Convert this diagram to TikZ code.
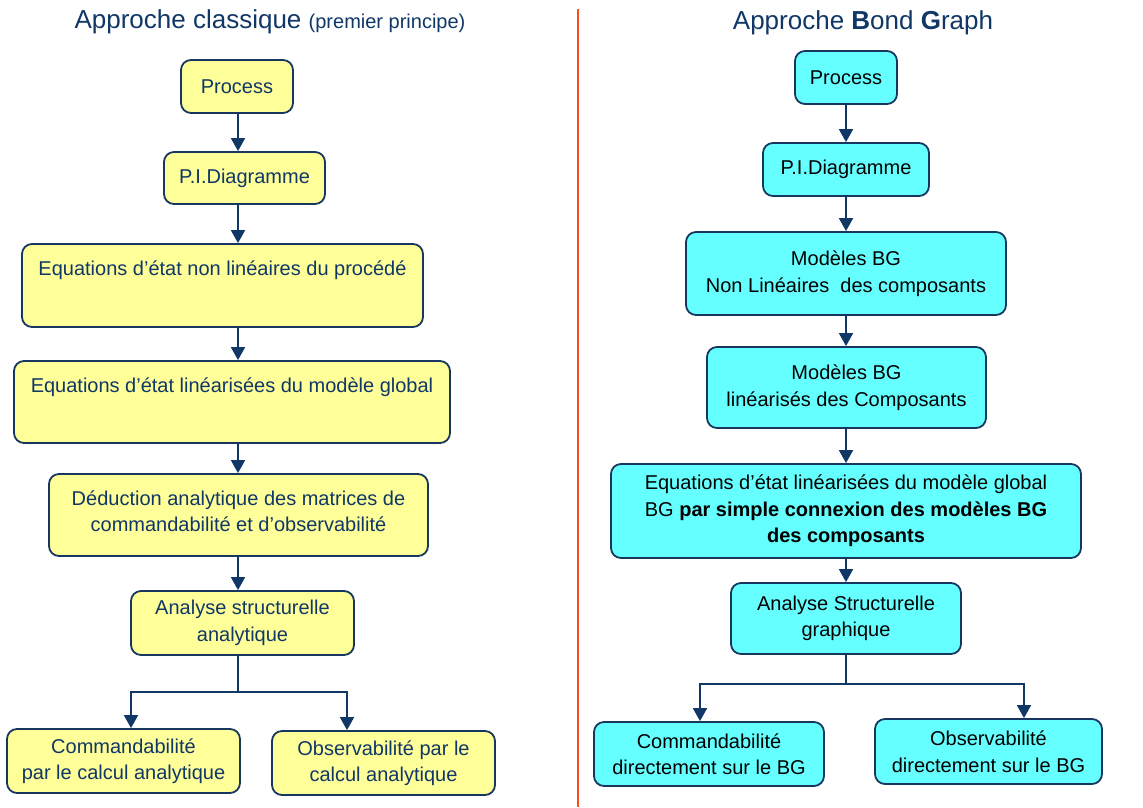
\documentclass[tikz,border=0pt]{standalone}
\usepackage{fontspec}
\setmainfont{Liberation Sans}
\usetikzlibrary{arrows.meta}
\definecolor{navy}{HTML}{103766}
\definecolor{edge}{HTML}{17375E}
\definecolor{yel}{HTML}{FFFF99}
\definecolor{cyn}{HTML}{66FFFF}
\definecolor{divider}{HTML}{FF4A1C}
\tikzset{
 box/.style={draw=edge, line width=1.8pt, rounded corners=10pt, inner sep=0pt, align=center, font=\fontsize{20}{26.5}\selectfont},
 ybox/.style={box, fill=yel, text=navy},
 cbox/.style={box, fill=cyn, text=black},
 txt/.style={inner sep=0pt, align=center, font=\fontsize{20}{26.5}\selectfont},
 arr/.style={draw=navy, line width=1.8pt, -{Triangle[width=14pt,length=13pt]}},
 lin/.style={draw=navy, line width=1.8pt},
}
\begin{document}
\begin{tikzpicture}[x=1pt,y=-1pt]
\useasboundingbox (0,0) rectangle (1143,807);
% titles
\node[anchor=base, text=navy, inner sep=0pt] (titleL) at (270,28) {\fontsize{26}{30}\selectfont Approche classique \fontsize{20}{24}\selectfont(premier principe)};
\node[anchor=base, text=navy, inner sep=0pt] (titleR) at (863,29) {\fontsize{26}{30}\selectfont Approche \textbf{B}ond \textbf{G}raph};
% divider
\coordinate (d1) at (578,9);
\coordinate (d2) at (578,807);
\draw[divider, line width=2pt] (d1) -- (d2);
% left column
\node[ybox, minimum width=112pt, minimum height=53pt] (L1) at (237,86.5) {Process};
\node[ybox, minimum width=161pt, minimum height=52pt] (L2) at (244.5,178) {P.I.Diagramme};
\node[ybox, minimum width=401pt, minimum height=83pt] (L3) at (222.5,285.5) {};
\node[txt, text=navy] (t3) at (222.5,270) {Equations d’état non linéaires du procédé};
\node[ybox, minimum width=436pt, minimum height=82pt] (L4) at (232,402) {};
\node[txt, text=navy] (t4) at (232,387) {Equations d’état linéarisées du modèle global};
\node[ybox, minimum width=379pt, minimum height=82pt] (L5) at (238.5,515) {};
\node[txt, text=navy] (t5) at (238.5,511) {Déduction analytique des matrices de\\commandabilité et d’observabilité};
\node[ybox, minimum width=223pt, minimum height=64pt] (L6) at (242.5,623) {Analyse structurelle\\analytique};
\node[ybox, minimum width=233pt, minimum height=64pt] (L7) at (123.5,761) {Commandabilité\\par le calcul analytique};
\node[ybox, minimum width=223pt, minimum height=64pt] (L8) at (383.5,763) {Observabilité par le\\calcul analytique};
% right column
\node[cbox, minimum width=102pt, minimum height=53pt] (R1) at (846,77.5) {Process};
\node[cbox, minimum width=166pt, minimum height=53pt] (R2) at (846,169.5) {P.I.Diagramme};
\node[cbox, minimum width=320pt, minimum height=83pt] (R3) at (846,273.5) {Modèles BG\\Non Linéaires~ des composants};
\node[cbox, minimum width=279pt, minimum height=81pt] (R4) at (846.5,387.5) {Modèles BG\\linéarisés des Composants};
\node[cbox, minimum width=470pt, minimum height=94pt] (R5) at (846,511) {Equations d’état linéarisées du modèle global\\BG \textbf{par simple connexion des modèles BG}\\\textbf{des composants}};
\node[cbox, minimum width=230pt, minimum height=71pt] (R6) at (846,618.5) {Analyse Structurelle\\graphique};
\node[cbox, minimum width=230pt, minimum height=64pt] (R7) at (709,754) {Commandabilité\\directement sur le BG};
\node[cbox, minimum width=227pt, minimum height=65pt] (R8) at (988.5,751.5) {Observabilité\\directement sur le BG};
% axes
\coordinate (axL) at (238,0);
\coordinate (axR) at (846,0);
% left arrows
\draw[arr] (axL |- L1.south) -- (axL |- L2.north);
\draw[arr] (axL |- L2.south) -- (axL |- L3.north);
\draw[arr] (axL |- L3.south) -- (axL |- L4.north);
\draw[arr] (axL |- L4.south) -- (axL |- L5.north);
\draw[arr] (axL |- L5.south) -- (axL |- L6.north);
\coordinate (jL) at (238,692);
\coordinate (bL1) at (131,692);
\coordinate (bL2) at (347,692);
\draw[lin] (axL |- L6.south) -- (jL);
\draw[arr] (jL) -- (bL1) -- (bL1 |- L7.north);
\draw[arr] (jL) -- (bL2) -- (bL2 |- L8.north);
% right arrows
\draw[arr] (axR |- R1.south) -- (axR |- R2.north);
\draw[arr] (axR |- R2.south) -- (axR |- R3.north);
\draw[arr] (axR |- R3.south) -- (axR |- R4.north);
\draw[arr] (axR |- R4.south) -- (axR |- R5.north);
\draw[arr] (axR |- R5.south) -- (axR |- R6.north);
\coordinate (jR) at (846,684);
\coordinate (bR1) at (700,684);
\coordinate (bR2) at (1024,684);
\draw[lin] (axR |- R6.south) -- (jR);
\draw[arr] (jR) -- (bR1) -- (bR1 |- R7.north);
\draw[arr] (jR) -- (bR2) -- (bR2 |- R8.north);
\end{tikzpicture}
\end{document}
